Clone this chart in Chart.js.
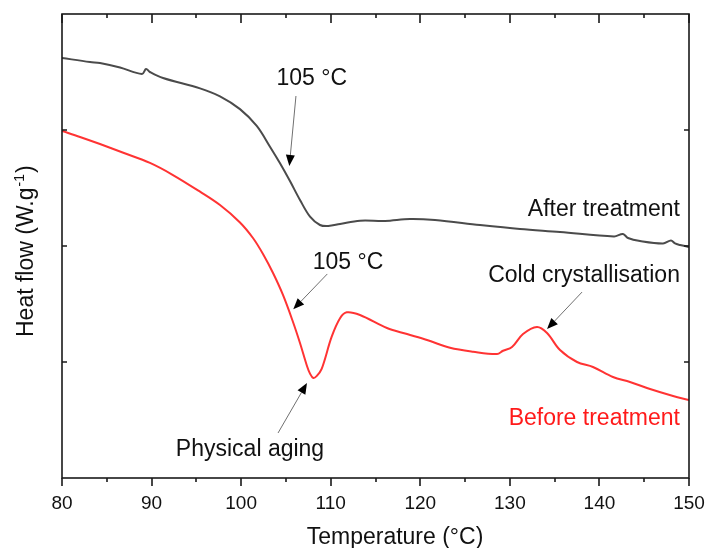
<!DOCTYPE html>
<html>
<head>
<meta charset="utf-8">
<script src="https://cdn.jsdelivr.net/npm/chart.js@4/dist/chart.umd.min.js"></script>
<style>
  html, body { margin: 0; padding: 0; background: #ffffff; }
  #wrap { width: 706px; height: 548px; }
</style>
</head>
<body>
<div id="wrap"><canvas id="c" width="706" height="548"></canvas></div>
<script>
// ---- Data ----
const tempAfter = [80.00, 83.13, 84.24, 86.48, 88.93, 89.38, 89.82, 91.28, 95.41, 97.64, 99.87, 101.74, 103.22, 104.34, 105.45, 106.57, 107.69, 108.80, 109.73, 111.04, 113.27, 116.06, 118.85, 121.64, 126.67, 131.13, 135.60, 141.63, 142.63, 143.19, 144.53, 147.10, 147.99, 148.44, 149.00, 150.00];
const heatAfter = [3.621, 3.586, 3.578, 3.539, 3.483, 3.526, 3.500, 3.448, 3.359, 3.290, 3.180, 3.035, 2.856, 2.713, 2.560, 2.397, 2.253, 2.181, 2.172, 2.190, 2.218, 2.216, 2.233, 2.224, 2.181, 2.147, 2.121, 2.082, 2.103, 2.069, 2.043, 2.022, 2.047, 2.022, 2.009, 1.991];

const tempBefore = [80.00, 82.01, 84.24, 86.92, 89.82, 92.39, 95.41, 97.64, 99.87, 101.32, 102.44, 103.56, 104.67, 105.79, 106.57, 107.35, 107.69, 108.06, 108.45, 108.99, 110.11, 111.04, 111.79, 113.27, 116.28, 118.52, 120.75, 123.32, 125.89, 128.57, 129.24, 130.24, 131.47, 133.03, 134.15, 135.60, 137.50, 139.28, 141.51, 143.41, 145.65, 148.22, 150.00];
const heatBefore = [2.991, 2.940, 2.879, 2.802, 2.716, 2.612, 2.468, 2.353, 2.203, 2.069, 1.931, 1.767, 1.578, 1.345, 1.164, 0.966, 0.900, 0.862, 0.880, 0.940, 1.218, 1.377, 1.428, 1.405, 1.293, 1.241, 1.190, 1.123, 1.089, 1.069, 1.097, 1.129, 1.241, 1.302, 1.250, 1.103, 1.000, 0.957, 0.871, 0.828, 0.767, 0.707, 0.672];

const xMajorTicks = [80, 90, 100, 110, 120, 130, 140, 150];
const xMinorTicks = [85, 95, 105, 115, 125, 135, 145];
const yTicks = [1, 2, 3];

const seriesNames = ['After treatment', 'Before treatment'];
const xTitle = 'Temperature (°C)';
const yTitleMain = 'Heat flow (W.g';
const yTitleSup = '-1';
const yTitleEnd = ')';

// annotation texts and arrows (in data coordinates)
const notes = [
  { text: '105 °C', x: 107.88, y: 3.388, align: 'center', color: '#111111' },
  { text: 'After treatment', x: 148.99, y: 2.259, align: 'right', color: '#111111' },
  { text: '105 °C', x: 111.93, y: 1.799, align: 'center', color: '#111111' },
  { text: 'Cold crystallisation', x: 148.99, y: 1.690, align: 'right', color: '#111111' },
  { text: 'Physical aging', x: 100.99, y: 0.190, align: 'center', color: '#111111' },
  { text: 'Before treatment', x: 148.99, y: 0.457, align: 'right', color: '#ff1a1a' }
];
const arrows = [
  { x1: 106.12, y1: 3.293, x2: 105.38, y2: 2.690 },
  { x1: 109.62, y1: 1.759, x2: 105.82, y2: 1.454 },
  { x1: 104.12, y1: 0.388, x2: 107.35, y2: 0.819 },
  { x1: 138.06, y1: 1.603, x2: 134.15, y2: 1.284 }
];

const FONT = '"Liberation Sans", Arial, Helvetica, sans-serif';

function pts(xs, ys) { return xs.map((x, i) => ({ x: x, y: ys[i] })); }

const decor = {
  id: 'decor',
  afterDatasetsDraw(chart) {
    const ctx = chart.ctx;
    const a = chart.chartArea;
    const sx = chart.scales.x, sy = chart.scales.y;
    ctx.save();
    // frame
    ctx.strokeStyle = '#1a1a1a';
    ctx.lineWidth = 1.6;
    ctx.strokeRect(a.left, a.top, a.right - a.left, a.bottom - a.top);
    // ticks
    ctx.lineWidth = 1.6;
    ctx.beginPath();
    xMajorTicks.forEach(v => {
      const p = Math.round(sx.getPixelForValue(v));
      ctx.moveTo(p, a.bottom); ctx.lineTo(p, a.bottom + 8);
      ctx.moveTo(p, a.top); ctx.lineTo(p, a.top + 9);
    });
    xMinorTicks.forEach(v => {
      const p = Math.round(sx.getPixelForValue(v));
      ctx.moveTo(p, a.bottom); ctx.lineTo(p, a.bottom + 4);
      ctx.moveTo(p, a.top); ctx.lineTo(p, a.top + 4);
    });
    yTicks.forEach(v => {
      const p = Math.round(sy.getPixelForValue(v));
      ctx.moveTo(a.left, p); ctx.lineTo(a.left + 5, p);
      ctx.moveTo(a.right, p); ctx.lineTo(a.right - 5, p);
    });
    ctx.stroke();

    // arrows
    arrows.forEach(ar => {
      const x1 = sx.getPixelForValue(ar.x1), y1 = sy.getPixelForValue(ar.y1);
      const x2 = sx.getPixelForValue(ar.x2), y2 = sy.getPixelForValue(ar.y2);
      const ang = Math.atan2(y2 - y1, x2 - x1);
      const hl = 11, hw = 4.5;
      const bx = x2 - hl * Math.cos(ang), by = y2 - hl * Math.sin(ang);
      ctx.strokeStyle = '#707070';
      ctx.lineWidth = 1;
      ctx.beginPath(); ctx.moveTo(x1, y1); ctx.lineTo(bx, by); ctx.stroke();
      ctx.fillStyle = '#000000';
      ctx.beginPath();
      ctx.moveTo(x2, y2);
      ctx.lineTo(bx + hw * Math.sin(ang), by - hw * Math.cos(ang));
      ctx.lineTo(bx - hw * Math.sin(ang), by + hw * Math.cos(ang));
      ctx.closePath(); ctx.fill();
    });

    // annotation texts
    ctx.font = '23px ' + FONT;
    ctx.textBaseline = 'alphabetic';
    notes.forEach(n => {
      ctx.fillStyle = n.color;
      ctx.textAlign = n.align;
      ctx.fillText(n.text, sx.getPixelForValue(n.x), sy.getPixelForValue(n.y));
    });

    // x title
    ctx.fillStyle = '#111111';
    ctx.textAlign = 'center';
    ctx.font = '23px ' + FONT;
    ctx.fillText(xTitle, 395, 544);

    // y title (rotated, with superscript)
    ctx.translate(33, 337);
    ctx.rotate(-Math.PI / 2);
    ctx.textAlign = 'left';
    ctx.font = '23px ' + FONT;
    ctx.fillText(yTitleMain, 0, 0);
    let w = ctx.measureText(yTitleMain).width;
    ctx.font = '14px ' + FONT;
    ctx.fillText(yTitleSup, w + 1, -9);
    w += ctx.measureText(yTitleSup).width + 2;
    ctx.font = '23px ' + FONT;
    ctx.fillText(yTitleEnd, w, 0);
    ctx.restore();
  }
};

new Chart(document.getElementById('c'), {
  type: 'scatter',
  data: {
    datasets: [
      { label: seriesNames[0], data: pts(tempAfter, heatAfter), showLine: true, borderColor: '#4b4b4b', borderWidth: 2, pointRadius: 0, tension: 0.35, fill: false },
      { label: seriesNames[1], data: pts(tempBefore, heatBefore), showLine: true, borderColor: '#ff3333', borderWidth: 2, pointRadius: 0, tension: 0.35, fill: false }
    ]
  },
  options: {
    responsive: false,
    animation: false,
    devicePixelRatio: 1,
    layout: { padding: { left: 0, top: 14, right: 17, bottom: 0 } },
    plugins: { legend: { display: false }, tooltip: { enabled: false } },
    scales: {
      x: {
        type: 'linear', min: 80, max: 150,
        afterBuildTicks: s => { s.ticks = xMajorTicks.map(v => ({ value: v })); },
        ticks: { color: '#111111', font: { family: FONT, size: 19 }, padding: 14, maxRotation: 0 },
        grid: { display: true, drawOnChartArea: false, drawTicks: false, color: 'rgba(0,0,0,0)' },
        border: { display: false },
        afterFit: s => { s.height = 70; s.paddingLeft = 0; s.paddingRight = 0; }
      },
      y: {
        type: 'linear', min: 0, max: 4,
        afterBuildTicks: s => { s.ticks = yTicks.map(v => ({ value: v })); },
        ticks: { display: false },
        grid: { display: false, drawTicks: false },
        border: { display: false },
        afterFit: s => { s.width = 62; s.paddingTop = 0; s.paddingBottom = 0; }
      }
    }
  },
  plugins: [decor]
});
</script>
</body>
</html>
